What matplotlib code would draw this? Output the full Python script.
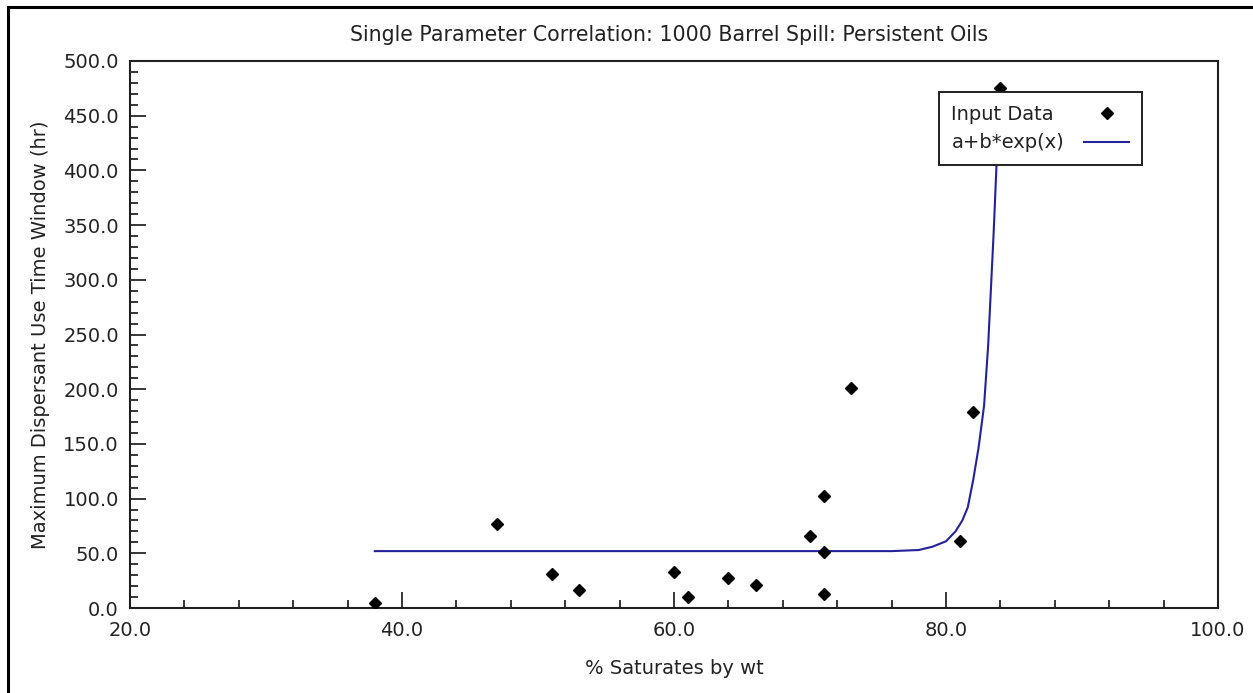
import matplotlib
matplotlib.use("Agg")
import matplotlib.pyplot as plt
from matplotlib.patches import Rectangle

plt.rcParams['font.family'] = ['DejaVu Sans']

# input data
sat = [38, 47, 51, 53, 60, 61, 64, 66, 70, 71, 71, 71, 73, 81, 82, 84]
hours = [5, 77, 31, 16, 33, 10, 27, 21, 66, 102, 51, 13, 201, 61, 179, 475]

# fitted curve a+b*exp(x)
fit_x = [38, 76, 78, 79, 80, 80.7, 81.2, 81.6, 82.0, 82.4, 82.8, 83.1, 83.5, 83.8, 83.95]
fit_y = [52, 52, 53, 56, 61, 70, 80, 92, 117, 147, 185, 240, 342, 430, 475]

xticks = [20, 40, 60, 80, 100]
yticks = [0, 50, 100, 150, 200, 250, 300, 350, 400, 450, 500]

W, H = 1253, 693
fs = 14
fig = plt.figure(figsize=(W / 100, H / 100), dpi=100)
fig.patch.set_facecolor('white')

# outer frame (only top/left visible in the original)
fig.add_artist(Rectangle((7.5 / W, -0.1), 2, 1 + 0.1 - 7.5 / H,
                         transform=fig.transFigure, fill=False,
                         edgecolor='black', linewidth=2.2))

ax = fig.add_axes([130 / W, 1 - 608 / H, (1218 - 130) / W, (608 - 61) / H])

txt = '#222222'
pts, = ax.plot(sat, hours, linestyle='none', marker='D', markersize=6.5,
               color='black', zorder=3)
line, = ax.plot(fit_x, fit_y, color='#22229a', linewidth=1.5, zorder=2)

ax.set_xlim(20, 100)
ax.set_ylim(0, 500)
ax.set_xticks(xticks)
ax.set_yticks(yticks)
ax.set_xticklabels(['%.1f' % v for v in xticks])
ax.set_yticklabels(['%.1f' % v for v in yticks])
ax.set_xticks([x for x in range(24, 100, 4) if x % 20], minor=True)
ax.set_yticks([y for y in range(10, 500, 10) if y % 50], minor=True)

ax.tick_params(which='both', direction='in', top=False, right=False,
               labelsize=fs, colors='black', labelcolor=txt, width=1.1)
ax.tick_params(which='major', length=11.5)
ax.tick_params(which='minor', length=5.8)
ax.tick_params(axis='y', pad=8)
ax.tick_params(axis='x', pad=9)

for s in ax.spines.values():
    s.set_linewidth(1.5)
    s.set_color('#202020')

ax.set_xlabel('% Saturates by wt', fontsize=fs, color=txt)
ax.xaxis.set_label_coords(0.5, -(669 - 608) / 547)
ax.xaxis.label.set_va('center')
ax.set_ylabel('Maximum Dispersant Use Time Window (hr)', fontsize=fs, color=txt)
ax.yaxis.set_label_coords((41 - 130) / 1088, 0.5)
ax.yaxis.label.set_va('center')

fig.text(669 / W, 1 - 35 / H, 'Single Parameter Correlation: 1000 Barrel Spill: Persistent Oils',
         ha='center', va='center', fontsize=14.8, color=txt)

leg = ax.legend([pts, line], ['Input Data', 'a+b*exp(x)'], loc='upper right',
                bbox_to_anchor=((1142 - 130) / 1088, (608 - 92) / 547),
                borderaxespad=0, markerfirst=False, fontsize=fs, frameon=True,
                fancybox=False, handlelength=2.35, handletextpad=1.0,
                labelspacing=0.5, borderpad=0.65, framealpha=1)
leg.get_frame().set_edgecolor('#202020')
leg.get_frame().set_linewidth(1.4)
leg.set_zorder(5)
for t in leg.get_texts():
    t.set_color(txt)

# left-align the labels while keeping the handles lined up on the right
fig.canvas.draw()
r = fig.canvas.get_renderer()
tw = [t.get_window_extent(r).width for t in leg.get_texts()]
items = leg._legend_handle_box.get_children()[0].get_children()
for it, w in zip(items, tw):
    it.sep += (max(tw) - w) * 72 / fig.dpi

fig.savefig('out.png', dpi=100, facecolor='white')
